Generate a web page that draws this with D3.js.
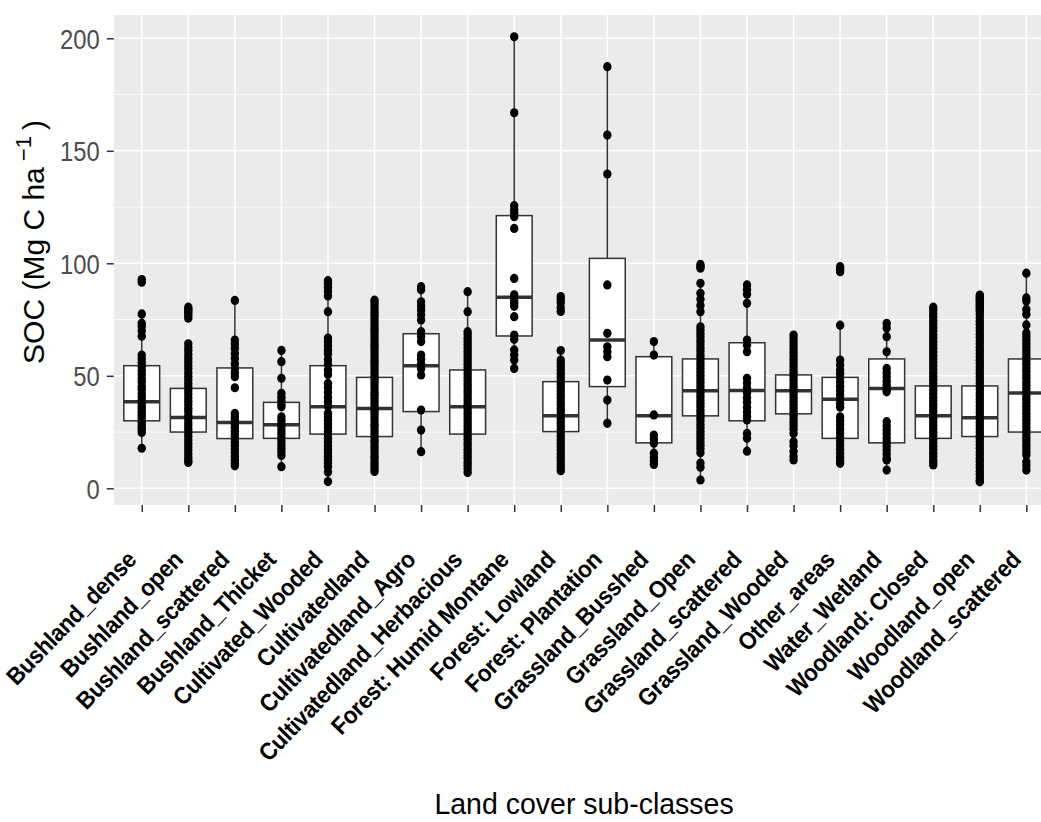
<!DOCTYPE html>
<html>
<head>
<meta charset="utf-8">
<script src="https://cdn.jsdelivr.net/npm/d3@7"></script>
<style>
  html, body { margin: 0; padding: 0; background: #ffffff; }
  svg { display: block; font-family: "Liberation Sans", Arial, Helvetica, sans-serif; }
</style>
</head>
<body>
<svg id="chart" width="1041" height="822"></svg>
<script>
// ---------------- data ----------------
const categories = [
  "Bushland_dense", "Bushland_open", "Bushland_scattered", "Bushland_Thicket",
  "Cultivated_Wooded", "Cultivatedland", "Cultivatedland_Agro", "Cultivatedland_Herbacious",
  "Forest: Humid Montane", "Forest: Lowland", "Forest: Plantation", "Grassland_Busshed",
  "Grassland_Open", "Grassland_scattered", "Grassland_Wooded", "Other_areas",
  "Water_Wetland", "Woodland: Closed", "Woodland_open", "Woodland_scattered"
];
const q1        = [30.0, 25.0, 22.1, 22.2, 24.1, 23.0, 34.1, 24.1, 67.7, 25.2, 45.2, 20.2, 32.2, 30.0, 33.1, 22.2, 20.2, 22.2, 23.0, 25.0];
const median    = [38.5, 31.5, 29.2, 28.3, 36.3, 35.5, 54.5, 36.3, 84.9, 32.2, 65.9, 32.2, 43.4, 43.5, 43.4, 39.6, 44.4, 32.3, 31.4, 42.4];
const q3        = [54.5, 44.4, 53.5, 38.2, 54.5, 49.3, 68.7, 52.6, 121.2, 47.4, 102.2, 58.5, 57.5, 64.7, 50.4, 49.3, 57.5, 45.5, 45.5, 57.5];
const whiskerLo = [17.8, 11.5, 10.0, 9.6, 3.0, 7.5, 16.3, 7.0, 53.3, 7.8, 28.9, 10.6, 3.7, 16.5, 12.6, 11.1, 8.1, 10.4, 2.9, 8.1];
const whiskerHi = [77.5, 64.3, 83.5, 61.3, 92.3, 83.6, 89.6, 87.4, 200.7, 61.2, 187.4, 65.2, 91.1, 90.4, 68.1, 72.5, 73.3, 80.5, 78.6, 95.6];

// individual SOC observations (Mg C / ha), one list per sub-class, in category order
const pointValues = [
  // Bushland_dense
  [92.8, 91.6, 77.5, 73.4, 71.8, 69.9, 67.6, 59.2, 57.5, 55.8, 54.1, 52.3, 50.6, 48.7, 47.2, 45.4, 43.9, 42.1, 40.8,
   39.3, 37.9, 36.4, 35.2, 33.8, 32.5, 31.1, 29.7, 28.6, 27.3, 26.1, 24.8, 17.8],
  // Bushland_open
  [80.5, 79.6, 78.8, 77.9, 76.8, 75.6, 64.2, 62.5, 61.1, 59.4, 57.8, 56.3, 54.6, 53.1, 51.4, 49.8, 48.3, 46.6, 45.1,
   43.5, 41.9, 40.2, 38.7, 37.2, 35.6, 34.1, 32.4, 30.9, 29.3, 27.8, 26.2, 24.7, 23.1, 21.5, 19.9, 18.4, 16.8, 15.3,
   13.7, 12.4, 11.5],
  // Bushland_scattered
  [83.5, 65.9, 64.1, 62.2, 59.9, 57.7, 55.4, 53.3, 51.2, 49.6, 44.7, 33.3, 31.7, 30.1, 28.6, 27.0, 25.4, 23.8, 22.2,
   20.6, 19.1, 17.5, 15.9, 14.3, 12.7, 11.2, 10.0],
  // Bushland_Thicket
  [61.3, 56.3, 48.9, 42.2, 40.5, 38.9, 37.4, 36.2, 31.8, 30.3, 28.7, 27.2, 25.6, 24.1, 22.5, 21.0, 19.4, 17.8, 16.2,
   14.6, 9.6],
  // Cultivated_Wooded
  [92.3, 91.1, 89.4, 87.6, 85.5, 78.5, 66.8, 65.1, 63.2, 61.4, 59.8, 57.2, 55.1, 52.6, 50.6, 46.7, 44.8, 42.6, 40.4,
   38.5, 36.5, 33.4, 31.8, 30.2, 28.6, 27.0, 25.4, 23.8, 22.2, 20.6, 19.0, 17.4, 15.8, 14.2, 12.6, 11.1, 9.6, 7.2, 3.0],
  // Cultivatedland
  [83.6, 82.4, 81.1, 79.7, 78.2, 76.9, 75.4, 74.0, 72.6, 71.1, 69.8, 68.3, 66.9, 65.5, 64.0, 62.7, 61.2, 59.8, 58.4,
   56.9, 55.6, 54.1, 52.7, 51.3, 49.8, 48.5, 47.0, 45.6, 44.2, 42.7, 41.4, 39.9, 38.5, 37.1, 35.6, 34.3, 32.8, 31.4,
   30.0, 28.5, 27.2, 25.7, 24.3, 22.9, 21.4, 20.1, 18.6, 17.2, 15.8, 14.3, 13.0, 11.5, 10.1, 8.7, 7.5],
  // Cultivatedland_Agro
  [89.6, 88.2, 82.9, 81.0, 79.2, 77.1, 74.8, 69.6, 67.5, 65.2, 59.2, 57.4, 55.3, 53.1, 50.4, 34.8, 25.9, 16.3],
  // Cultivatedland_Herbacious
  [87.4, 78.5, 69.6, 68.2, 66.7, 65.3, 63.8, 62.4, 60.9, 59.5, 58.0, 56.6, 55.1, 53.7, 52.2, 50.8, 49.3, 47.9, 46.4,
   45.0, 43.5, 42.1, 40.6, 39.2, 37.7, 36.3, 34.8, 33.4, 31.9, 30.5, 29.0, 27.6, 26.1, 24.7, 23.2, 21.8, 20.3, 18.9,
   17.4, 16.0, 14.5, 13.1, 11.6, 10.2, 8.7, 7.0],
  // Forest: Humid Montane
  [200.7, 166.9, 125.6, 123.8, 122.2, 120.7, 115.5, 93.3, 86.0, 84.8, 83.5, 82.2, 80.9, 76.3, 68.1, 66.2, 61.5, 59.3,
   57.0, 53.3],
  // Forest: Lowland
  [85.2, 84.0, 82.6, 80.4, 78.6, 61.2, 57.0, 55.6, 54.0, 52.5, 50.9, 49.4, 47.8, 46.3, 44.7, 43.2, 41.6, 40.1, 38.5,
   37.0, 35.4, 33.9, 32.3, 30.8, 29.2, 27.7, 26.1, 24.6, 23.0, 21.5, 19.9, 18.4, 16.8, 15.3, 13.7, 12.2, 10.6, 9.1, 7.8],
  // Forest: Plantation
  [187.4, 157.0, 139.7, 90.4, 68.9, 62.9, 60.7, 58.5, 48.1, 39.2, 28.9],
  // Grassland_Busshed
  [65.2, 59.2, 32.6, 23.7, 21.9, 20.0, 15.6, 13.8, 12.1, 10.6],
  // Grassland_Open
  [99.5, 98.6, 97.8, 91.1, 86.7, 84.0, 81.3, 78.5, 71.8, 70.3, 68.7, 67.2, 65.6, 64.1, 62.5, 61.0, 59.4, 57.9, 56.3,
   54.8, 53.2, 51.7, 50.1, 48.6, 47.0, 45.5, 43.9, 42.4, 40.8, 39.3, 37.7, 36.2, 34.6, 33.1, 31.5, 30.0, 28.4, 26.9,
   25.3, 23.8, 22.2, 20.7, 19.1, 17.6, 15.8, 11.2, 9.4, 3.7],
  // Grassland_scattered
  [90.4, 88.4, 86.2, 82.2, 65.9, 63.6, 60.7, 48.9, 46.8, 44.6, 42.5, 40.3, 38.2, 36.0, 33.9, 31.9, 30.4, 24.4, 22.2,
   16.5],
  // Grassland_Wooded
  [68.1, 66.6, 65.0, 63.5, 61.9, 60.4, 58.8, 57.3, 55.7, 54.2, 52.6, 51.1, 49.5, 48.0, 46.4, 44.9, 43.3, 41.8, 40.2,
   38.7, 37.1, 35.6, 34.0, 32.5, 30.9, 29.4, 27.8, 26.3, 24.4, 20.7, 18.9, 16.4, 14.3, 12.6],
  // Other_areas
  [98.5, 97.3, 96.3, 72.5, 57.0, 54.8, 52.6, 51.0, 49.1, 47.2, 45.3, 43.4, 41.5, 39.6, 37.7, 36.0, 31.8, 30.0, 28.2,
   26.4, 24.6, 22.8, 21.0, 19.2, 17.4, 15.6, 13.8, 12.2, 11.1],
  // Water_Wetland
  [73.3, 71.2, 67.4, 60.7, 53.3, 51.4, 49.5, 47.6, 45.8, 43.9, 42.9, 29.6, 27.8, 26.0, 24.2, 22.4, 20.6, 18.8, 17.0,
   15.2, 13.4, 12.6, 8.1],
  // Woodland: Closed
  [80.5, 79.2, 77.6, 76.1, 74.5, 73.0, 71.4, 69.9, 68.3, 66.8, 65.2, 63.7, 62.1, 60.6, 59.0, 57.5, 55.9, 54.4, 52.8,
   51.3, 49.7, 48.2, 46.6, 45.1, 43.5, 42.0, 40.4, 38.9, 37.3, 35.8, 34.2, 32.7, 31.1, 29.6, 28.0, 26.5, 24.9, 23.4,
   21.8, 20.3, 18.7, 17.2, 15.6, 14.1, 12.5, 11.2, 10.4],
  // Woodland_open
  [85.9, 85.2, 84.5, 83.8, 83.1, 82.4, 81.6, 80.9, 80.1, 79.4, 78.6, 77.2, 75.8, 74.3, 72.9, 71.4, 70.0, 68.5, 67.1,
   65.6, 64.2, 62.7, 61.3, 59.8, 58.4, 56.9, 55.5, 54.0, 52.6, 51.1, 49.7, 48.2, 46.8, 45.3, 43.9, 42.4, 41.0, 39.5,
   38.1, 36.6, 35.2, 33.7, 32.3, 30.8, 29.4, 27.9, 26.5, 25.0, 23.6, 22.1, 20.7, 19.2, 17.8, 16.3, 14.9, 13.4, 12.0,
   10.5, 9.1, 7.6, 6.2, 4.7, 3.5, 2.9],
  // Woodland_scattered
  [95.6, 84.6, 83.2, 79.5, 77.4, 72.6, 69.0, 67.5, 65.9, 64.4, 62.8, 61.3, 59.7, 58.2, 56.6, 55.1, 53.5, 52.0, 50.4,
   48.9, 47.3, 45.8, 44.2, 42.7, 41.1, 39.6, 38.0, 36.5, 34.9, 33.4, 31.8, 30.3, 28.7, 27.2, 25.6, 24.1, 22.5, 21.0,
   19.4, 17.9, 16.3, 14.8, 11.8, 10.1, 8.1]
];

const yTicks = [0, 50, 100, 150, 200];
const yMinor = [25, 75, 125, 175];
const yTitleMain = "SOC (Mg C ha";
const yTitleSup = "\u22121";
const xTitle = "Land cover sub-classes";

// ---------------- layout ----------------
const panel = { left: 113.8, right: 1054.3, top: 15, bottom: 505 };
const svg = d3.select("#chart");
svg.append("rect").attr("width", 1041).attr("height", 822).attr("fill", "#ffffff");

const x = d3.scalePoint().domain(categories).range([panel.left, panel.right]).padding(0.6);
const y = d3.scaleLinear().domain([-7.42, 210.36]).range([panel.bottom, panel.top]);
const boxW = x.step() * 0.77;

// panel background
svg.append("rect")
  .attr("x", panel.left).attr("y", panel.top)
  .attr("width", panel.right - panel.left).attr("height", panel.bottom - panel.top)
  .attr("fill", "#EBEBEB");

// grid
const grid = svg.append("g");
grid.selectAll("line.minor").data(yMinor).join("line")
  .attr("x1", panel.left).attr("x2", panel.right)
  .attr("y1", d => y(d)).attr("y2", d => y(d))
  .attr("stroke", "#ffffff").attr("stroke-width", 0.8);
grid.selectAll("line.majy").data(yTicks).join("line")
  .attr("x1", panel.left).attr("x2", panel.right)
  .attr("y1", d => y(d)).attr("y2", d => y(d))
  .attr("stroke", "#ffffff").attr("stroke-width", 1.6);
grid.selectAll("line.majx").data(categories).join("line")
  .attr("x1", d => x(d)).attr("x2", d => x(d))
  .attr("y1", panel.top).attr("y2", panel.bottom)
  .attr("stroke", "#ffffff").attr("stroke-width", 1.6);

// boxplots
const stats = categories.map((c, i) => ({
  c, q1: q1[i], med: median[i], q3: q3[i], lo: whiskerLo[i], hi: whiskerHi[i]
}));
const boxes = svg.append("g").selectAll("g").data(stats).join("g");
boxes.append("line")
  .attr("x1", d => x(d.c)).attr("x2", d => x(d.c))
  .attr("y1", d => y(d.q3)).attr("y2", d => y(d.hi))
  .attr("stroke", "#333333").attr("stroke-width", 1.5);
boxes.append("line")
  .attr("x1", d => x(d.c)).attr("x2", d => x(d.c))
  .attr("y1", d => y(d.q1)).attr("y2", d => y(d.lo))
  .attr("stroke", "#333333").attr("stroke-width", 1.5);
boxes.append("rect")
  .attr("x", d => x(d.c) - boxW / 2).attr("width", boxW)
  .attr("y", d => y(d.q3)).attr("height", d => y(d.q1) - y(d.q3))
  .attr("fill", "#ffffff").attr("stroke", "#333333").attr("stroke-width", 1.5);
boxes.append("line")
  .attr("x1", d => x(d.c) - boxW / 2).attr("x2", d => x(d.c) + boxW / 2)
  .attr("y1", d => y(d.med)).attr("y2", d => y(d.med))
  .attr("stroke", "#333333").attr("stroke-width", 3.5);

// points
const pts = [];
categories.forEach((c, i) => pointValues[i].forEach(v => pts.push({ c, v })));
svg.append("g").selectAll("ellipse").data(pts).join("ellipse")
  .attr("cx", d => x(d.c)).attr("cy", d => y(d.v)).attr("rx", 4.2).attr("ry", 4.6)
  .attr("fill", "#000000");

// y axis
const yAxis = svg.append("g").attr("transform", `translate(${panel.left},0)`)
  .call(d3.axisLeft(y).tickValues(yTicks).tickSize(7).tickPadding(7));
yAxis.select(".domain").remove();
yAxis.selectAll(".tick line").attr("stroke", "#333333").attr("stroke-width", 1.5);
yAxis.selectAll(".tick text")
  .attr("fill", "#4D4D4D").style("font-size", "28px")
  .attr("x", -14 / 0.85).attr("transform", "scale(0.85,1)")
  .attr("dy", "0.36em");

// x axis
const xAxis = svg.append("g").attr("transform", `translate(0,${panel.bottom})`)
  .call(d3.axisBottom(x).tickSize(7).tickFormat(""));
xAxis.select(".domain").remove();
xAxis.selectAll(".tick line").attr("stroke", "#333333").attr("stroke-width", 1.5);

svg.append("g").selectAll("text").data(categories).join("text")
  .attr("transform", d => `translate(${x(d) - 4},561) rotate(-46) scale(0.93,1)`)
  .attr("text-anchor", "end")
  .style("font-size", "24px").style("font-weight", "bold")
  .style("letter-spacing", "-0.3px")
  .attr("fill", "#000000")
  .text(d => d);

// axis titles
svg.append("text")
  .attr("transform", `translate(${(panel.left + panel.right) / 2},814) scale(0.95,1)`)
  .attr("text-anchor", "middle").style("font-size", "30px").attr("fill", "#000000")
  .text(xTitle);

const yt = svg.append("text")
  .attr("transform", "translate(44,242) rotate(-90)")
  .attr("text-anchor", "middle").style("font-size", "30px").attr("fill", "#000000");
yt.append("tspan").text(yTitleMain);
yt.append("tspan").attr("dx", 6).attr("dy", -13).style("font-size", "22px").text(yTitleSup);
yt.append("tspan").attr("dx", 6).attr("dy", 13).text(")");
</script>
</body>
</html>
